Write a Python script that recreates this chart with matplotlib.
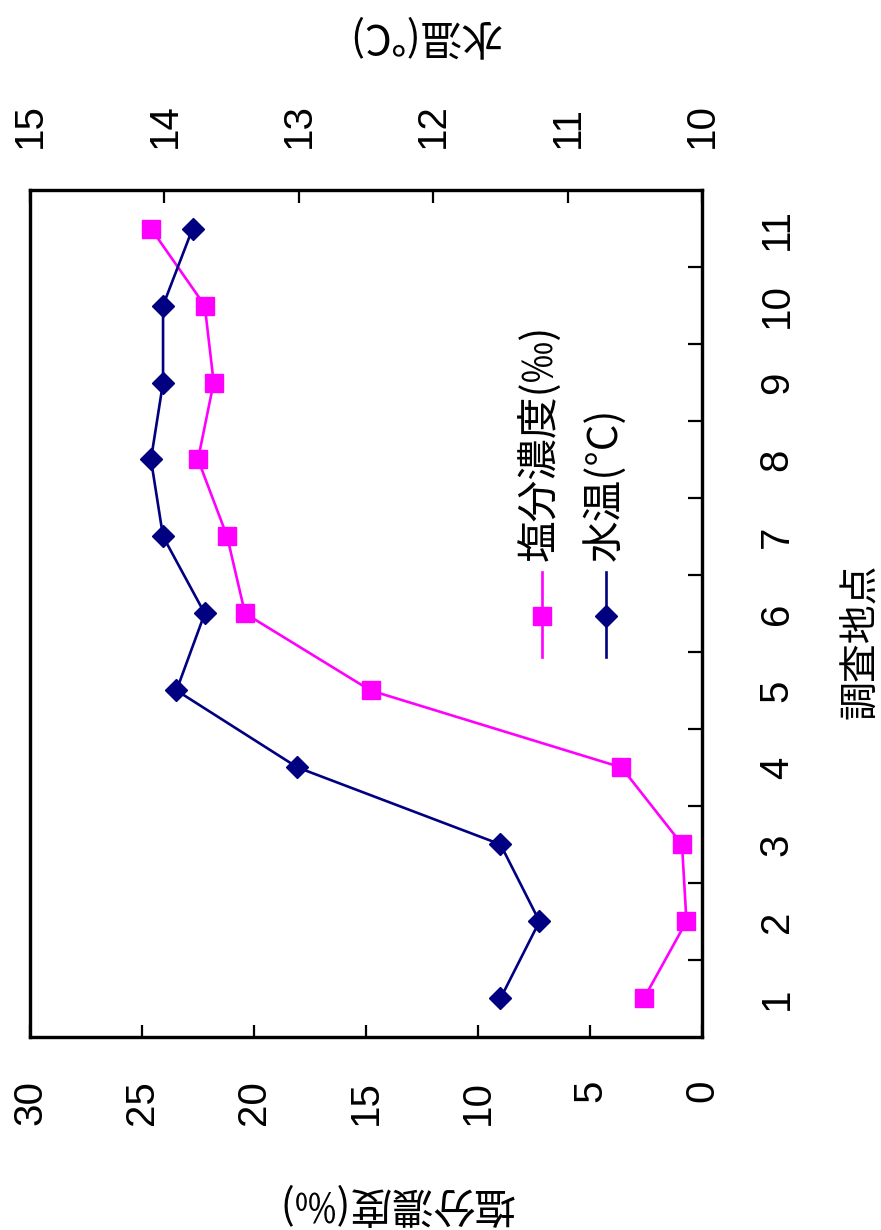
import matplotlib

matplotlib.use("Agg")
import matplotlib.pyplot as plt
from matplotlib.lines import Line2D

plt.rcParams["font.family"] = ["Liberation Sans", "DejaVu Sans"]
JP = ["Noto Sans CJK JP", "DejaVu Sans"]

SALT_COLOR = "#FF00FF"
TEMP_COLOR = "#000080"

stations = [1, 2, 3, 4, 5, 6, 7, 8, 9, 10, 11]
salinity = [2.6, 0.7, 0.9, 3.6, 14.8, 20.4, 21.2, 22.5, 21.8, 22.2, 24.6]
water_temp = [11.50, 11.21, 11.50, 13.01, 13.91, 13.70, 14.01, 14.10, 14.01, 14.01, 13.79]

salt_ticks = [0, 5, 10, 15, 20, 25, 30]
temp_ticks = [10, 11, 12, 13, 14, 15]
between = [s + 0.5 for s in stations[:-1]]

fig = plt.figure(figsize=(8.81, 12.30), dpi=100)
ax = fig.add_axes([0.034, 0.157, 0.763, 0.6885])
ax2 = ax.twiny()

ax.plot(salinity, stations, color=SALT_COLOR, lw=1.9, marker="s", ms=13,
        mec=SALT_COLOR, mfc=SALT_COLOR, zorder=3)
ax2.plot(water_temp, stations, color=TEMP_COLOR, lw=1.9, marker="D", ms=11,
         mec=TEMP_COLOR, mfc=TEMP_COLOR, zorder=3)

ax.set_xlim(30, 0)
ax2.set_xlim(15, 10)
ax.set_ylim(0.5, 11.5)

ax.set_xticks(salt_ticks)
ax2.set_xticks(temp_ticks)
ax.set_yticks(stations)
ax.set_yticks(between, minor=True)

ax.yaxis.set_ticks_position("right")
ax.tick_params(axis="x", which="both", bottom=True, top=False, direction="in",
               length=9, width=1.6, pad=31, labelsize=29, labelrotation=90)
ax2.tick_params(axis="x", which="both", bottom=False, top=True, direction="in",
                length=9, width=1.6, pad=30, labelsize=29, labelrotation=90)
ax.tick_params(axis="y", which="major", length=0, pad=40, labelsize=29,
               labelrotation=90)
ax.tick_params(axis="y", which="minor", direction="in", length=10, width=1.6)
for lab in ax.get_yticklabels():
    lab.set_va("center")

for a in (ax, ax2):
    for sp in a.spines.values():
        sp.set_linewidth(2.3)

# legend, drawn upright like the rest of the rotated chart
legend_items = [
    ("塩分濃度(‰)", SALT_COLOR, "s", 13, 0.762),
    ("水温(°C)", TEMP_COLOR, "D", 11, 0.857),
]
for text, color, marker, size, xpos in legend_items:
    ax.add_line(Line2D([xpos, xpos], [0.449, 0.549], transform=ax.transAxes,
                       color=color, lw=1.9))
    ax.add_line(Line2D([xpos], [0.497], transform=ax.transAxes, color=color,
                       marker=marker, ms=size, mfc=color, mec=color))
    ax.text(xpos - 0.003, 0.562, text, transform=ax.transAxes, rotation=90,
            ha="center", va="bottom", fontsize=30, family=JP)

fig.text(0.449, 0.022, "塩分濃度(‰)", rotation=180, ha="center", va="center",
         fontsize=30, family=JP)
fig.text(0.482, 0.9715, "水温(℃)", rotation=180, ha="center", va="center",
         fontsize=30, family=JP)
fig.text(0.976, 0.479, "調査地点", rotation=90, ha="center", va="center",
         fontsize=28, family=JP)

fig.savefig("out.png", dpi=100)
